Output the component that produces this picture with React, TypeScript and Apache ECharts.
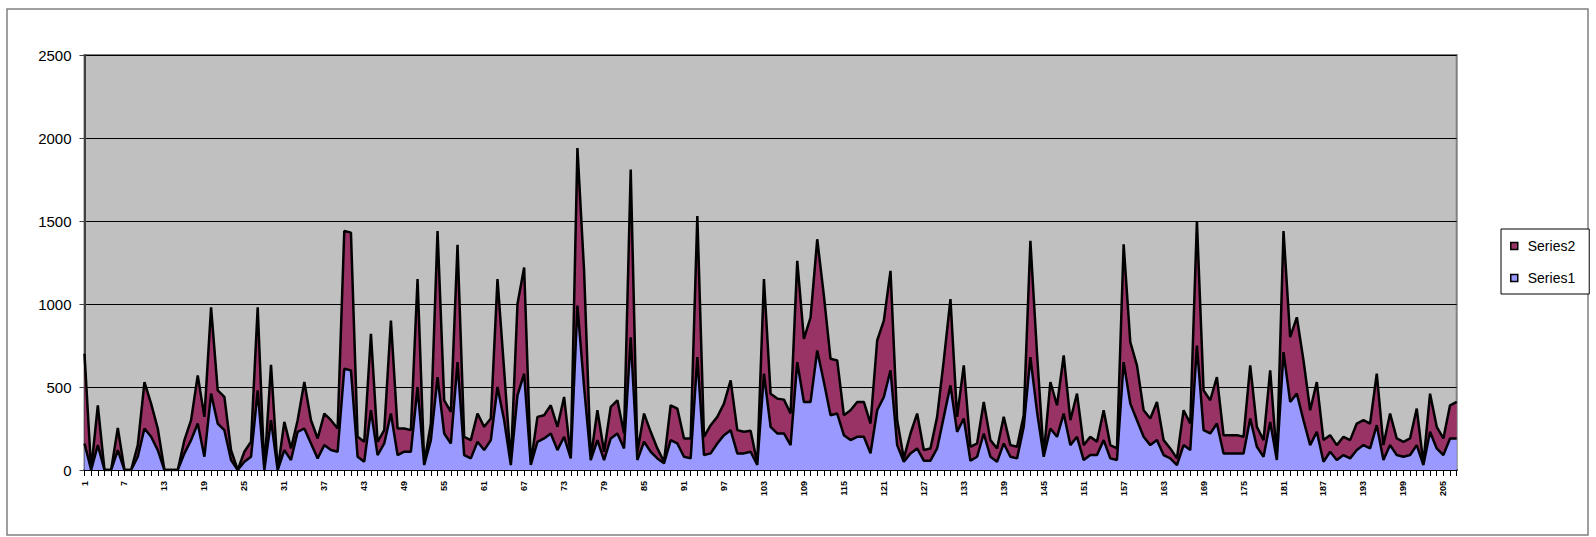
import React, { useEffect, useRef } from "react";
import * as echarts from "echarts";

const categories: string[] = Array.from({ length: 207 }, (_, i) => String(i + 1));

const yTicks = { min: 0, max: 2500, step: 500 };

const series1: number[] = [
  160, 0, 150, 0, 0, 120, 0, 0, 80, 250,
  200, 120, 0, 0, 0, 100, 180, 280, 80, 460,
  280, 240, 60, 0, 50, 80, 480, 0, 300, 0,
  120, 60, 230, 250, 160, 70, 150, 120, 110, 610,
  600, 80, 50, 360, 90, 160, 340, 90, 110, 110,
  500, 30, 180, 560, 220, 160, 650, 90, 70, 170,
  120, 180, 500, 300, 30, 450, 580, 30, 170, 190,
  220, 120, 200, 70, 990, 500, 60, 180, 60, 190,
  220, 130, 800, 60, 170, 110, 70, 40, 180, 160,
  80, 70, 680, 90, 100, 160, 210, 240, 100, 100,
  110, 30, 580, 260, 220, 220, 150, 650, 410, 410,
  720, 530, 330, 340, 210, 180, 200, 200, 100, 360,
  440, 600, 150, 50, 100, 130, 56, 56, 130, 320,
  510, 230, 310, 56, 80, 220, 80, 50, 160, 80,
  70, 260, 680, 350, 80, 250, 200, 340, 150, 200,
  60, 90, 90, 180, 70, 60, 650, 400, 300, 200,
  150, 180, 90, 70, 30, 150, 120, 750, 240, 220,
  280, 100, 100, 100, 100, 310, 140, 80, 290, 60,
  710, 410, 460, 300, 150, 230, 50, 110, 60, 90,
  70, 120, 150, 130, 270, 60, 150, 90, 80, 90,
  150, 30, 230, 130, 90, 190, 190,
];

const series2: number[] = [
  540, 0, 240, 0, 0, 134, 0, 0, 70, 280,
  200, 130, 0, 0, 0, 80, 120, 290, 240, 520,
  200, 200, 60, 0, 60, 90, 500, 0, 334, 0,
  170, 70, 70, 280, 140, 120, 190, 180, 140, 830,
  830, 120, 120, 460, 80, 80, 560, 160, 140, 130,
  650, 10, 100, 880, 200, 190, 706, 110, 110, 170,
  140, 130, 650, 300, 10, 550, 640, 10, 150, 140,
  170, 140, 240, 10, 950, 700, 10, 180, 50, 190,
  200, 90, 1010, 50, 170, 120, 60, 10, 210, 210,
  110, 120, 850, 110, 170, 160, 190, 300, 140, 130,
  126, 10, 570, 200, 210, 204, 190, 610, 380, 510,
  670, 520, 340, 320, 120, 180, 210, 210, 180, 420,
  460, 600, 150, 20, 120, 210, 64, 74, 190, 340,
  520, 90, 320, 84, 80, 190, 100, 80, 160, 70,
  70, 70, 700, 350, 10, 280, 190, 350, 150, 260,
  90, 110, 80, 180, 80, 70, 710, 370, 330, 160,
  160, 230, 90, 60, 40, 210, 160, 750, 240, 200,
  280, 110, 110, 110, 100, 320, 120, 100, 310, 10,
  730, 390, 460, 360, 210, 300, 130, 100, 90, 110,
  110, 160, 150, 150, 310, 90, 190, 100, 90, 100,
  220, 10, 230, 130, 100, 200, 220,
];

export default function App() {
  const ref = useRef<HTMLDivElement>(null);

  useEffect(() => {
    if (!ref.current) return;
    const chart = echarts.init(ref.current, null, { renderer: "svg" });
    chart.setOption({
      animation: false,
      backgroundColor: "#ffffff",
      textStyle: { fontFamily: "'Liberation Sans', Arial, sans-serif" },
      graphic: [
        {
          type: "rect",
          silent: true,
          shape: { x: 7, y: 9, width: 1581, height: 526 },
          style: { fill: "none", stroke: "#808080", lineWidth: 1.5 },
        },
      ],
      grid: {
        left: 84.5,
        top: 55,
        right: 139.3,
        bottom: 67,
        show: true,
        backgroundColor: "#C0C0C0",
        borderColor: "#808080",
        borderWidth: 2,
      },
      legend: {
        data: ["Series2", "Series1"],
        orient: "vertical",
        left: 1501,
        top: 229,
        icon: "rect",
        itemWidth: 7,
        itemHeight: 7,
        itemGap: 18,
        padding: [10, 14, 9, 9],
        borderColor: "#000",
        borderWidth: 1,
        borderRadius: 0,
        backgroundColor: "#fff",
        itemStyle: { borderColor: "#000", borderWidth: 1.5 },
        textStyle: { fontSize: 14, color: "#000", padding: [0, 0, 0, 5] },
      },
      xAxis: {
        type: "category",
        data: categories,
        boundaryGap: false,
        axisLine: { show: true, lineStyle: { color: "#000", width: 2 } },
        axisTick: { show: true, interval: 0, length: 6, lineStyle: { color: "#000", width: 1 } },
        axisLabel: {
          interval: 5,
          rotate: 90,
          fontSize: 9,
          fontWeight: "bold",
          color: "#000",
          margin: 11,
        },
        splitLine: { show: false },
      },
      yAxis: {
        type: "value",
        min: yTicks.min,
        max: yTicks.max,
        interval: yTicks.step,
        axisLine: { show: true, lineStyle: { color: "#404040", width: 2 } },
        axisTick: { show: true, length: 5, lineStyle: { color: "#404040" } },
        axisLabel: {
          fontSize: 15,
          color: "#000",
          margin: 13,
          formatter: (v: number) => String(v),
        },
        splitLine: { show: true, lineStyle: { color: "#000", width: 1 } },
      },
      series: [
        {
          name: "Series1",
          type: "line",
          stack: "total",
          data: series1,
          symbol: "none",
          showSymbol: false,
          z: 3,
          itemStyle: { color: "#9999FF" },
          lineStyle: { color: "#000", width: 2.5 },
          areaStyle: { color: "#9999FF", opacity: 1 },
        },
        {
          name: "Series2",
          type: "line",
          stack: "total",
          data: series2,
          symbol: "none",
          showSymbol: false,
          z: 2,
          itemStyle: { color: "#993366" },
          lineStyle: { color: "#000", width: 2.5 },
          areaStyle: { color: "#993366", opacity: 1 },
        },
      ],
    });
    return () => chart.dispose();
  }, []);

  return (
    <div
      ref={ref}
      style={{ position: "fixed", left: 0, top: 0, width: 1596, height: 537 }}
    />
  );
}
